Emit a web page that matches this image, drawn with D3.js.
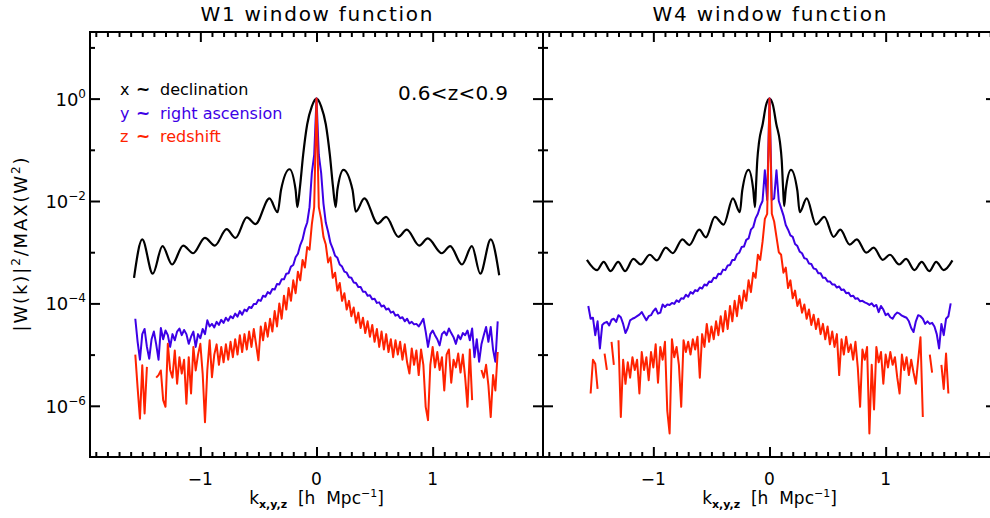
<!DOCTYPE html>
<html>
<head>
<meta charset="utf-8">
<script src="https://cdn.jsdelivr.net/npm/d3@7"></script>
<style>
  body { margin: 0; background: #fff; }
  svg { display: block; font-family: "DejaVu Sans", "Liberation Sans", sans-serif; }
</style>
</head>
<body>
<svg id="chart" width="990" height="518"></svg>
<script>
// ---------------------------------------------------------------------------
// Data: |W(k)|^2 / MAX(W^2) for the W1 and W4 fields, 0.6<z<0.9.
// Values are stored as log10 of the normalised power.
// ---------------------------------------------------------------------------

// FFT wavenumber grid for the y (RA) and z (redshift) directions, h/Mpc
const kGrid = d3.range(-78, 79).map(i => i / 50);

// x ~ declination, W1 (smooth sinc-like window, sampled at its extrema)
const w1DecK = [-1.571, -1.50, -1.41, -1.326, -1.243, -1.148, -1.062, -0.961, -0.875, -0.774,
  -0.697, -0.60, -0.525, -0.405, -0.335, -0.305, -0.232, -0.18, -0.165, -0.142,
  -0.115, -0.08, -0.04, 0, 0.04, 0.08, 0.115, 0.142, 0.165, 0.18,
  0.232, 0.31, 0.338, 0.412, 0.527, 0.599, 0.705, 0.777, 0.884, 0.958,
  1.079, 1.151, 1.252, 1.338, 1.41, 1.50, 1.573];
const w1DecLog = [-3.50, -2.75, -3.42, -2.88, -3.24, -2.87, -3.02, -2.72, -2.87, -2.55,
  -2.72, -2.32, -2.45, -1.95, -2.22, -1.78, -1.38, -1.78, -2.12, -1.72,
  -1.10, -0.50, -0.15, 0, -0.15, -0.50, -1.10, -1.72, -2.12, -1.78,
  -1.39, -1.78, -2.21, -1.95, -2.44, -2.31, -2.70, -2.56, -2.87, -2.73,
  -3.02, -2.88, -3.24, -2.88, -3.42, -2.75, -3.45];

// y ~ right ascension, W1
const w1RaLog = [
  -4.30, -4.75, -5.10, -4.60, -4.50, -4.85, -5.08, -4.70, -4.55, -4.80,
  -5.10, -4.48, -4.70, -4.53, -4.62, -4.85, -4.60, -4.72, -4.55, -4.49,
  -4.62, -4.52, -4.60, -4.79, -4.65, -4.55, -4.85, -4.60, -4.68, -4.50,
  -4.60, -4.33, -4.45, -4.40, -4.47, -4.36, -4.42, -4.32, -4.38, -4.28,
  -4.34, -4.25, -4.29, -4.20, -4.26, -4.15, -4.22, -4.12, -4.15, -4.07,
  -4.09, -4.01, -4.01, -3.93, -3.95, -3.85, -3.87, -3.78, -3.81, -3.72,
  -3.73, -3.62, -3.63, -3.53, -3.53, -3.42, -3.41, -3.28, -3.25, -3.10,
  -3.03, -2.86, -2.75, -2.55, -2.42, -2.12, -1.45, -1.10,
  0,
  -1.10, -1.45, -2.05, -2.42, -2.60, -2.82, -2.93, -3.07, -3.11, -3.24,
  -3.28, -3.38, -3.40, -3.49, -3.50, -3.59, -3.60, -3.68, -3.68, -3.77,
  -3.77, -3.85, -3.84, -3.92, -3.91, -3.99, -3.98, -4.06, -4.04, -4.12,
  -4.10, -4.18, -4.16, -4.24, -4.22, -4.29, -4.27, -4.35, -4.30, -4.39,
  -4.36, -4.41, -4.40, -4.45, -4.38, -4.30, -4.55, -4.85, -4.60, -4.53,
  -4.62, -4.70, -4.82, -4.60, -4.55, -4.62, -4.49, -4.58, -4.66, -4.79,
  -4.62, -4.70, -4.58, -4.62, -4.53, -4.72, -4.49, -5.05, -4.70, -5.14,
  -4.80, -4.62, -4.46, -4.75, -4.46, -4.90, -5.14, -4.35];

// z ~ redshift, W1 (null = empty bin, not drawn)
const w1ZLog = [
  -5.00, -5.65, -6.25, -5.21, -6.15, -5.24, null, null, null, -5.45,
  -5.40, -5.31, -5.89, -6.02, -4.79, -5.30, -5.45, -4.92, -5.57, -5.05,
  -5.37, -5.10, -5.96, -5.05, -5.76, -4.85, -5.31, -5.00, -4.79, -5.37,
  -6.32, -5.30, -4.72, -5.44, -5.00, -4.80, -5.20, -4.85, -5.15, -4.80,
  -5.10, -4.75, -5.05, -4.70, -5.00, -4.62, -4.95, -4.60, -4.90, -4.55,
  -4.85, -4.50, -4.80, -5.11, -4.45, -4.72, -4.38, -4.65, -4.30, -4.55,
  -4.15, -4.45, -4.00, -4.30, -3.85, -4.12, -3.70, -3.95, -3.55, -3.80,
  -3.38, -3.55, -3.15, -3.30, -2.90, -2.95, -2.45, -2.12,
  0,
  -2.12, -2.35, -2.70, -2.85, -3.20, -3.10, -3.50, -3.40, -3.75, -3.60,
  -3.95, -3.80, -4.12, -3.95, -4.25, -4.08, -4.38, -4.18, -4.48, -4.28,
  -4.58, -4.35, -4.65, -4.42, -4.75, -4.50, -4.85, -4.55, -4.90, -4.60,
  -4.95, -4.70, -5.05, -4.72, -5.00, -4.75, -5.10, -4.80, -5.15, -5.37,
  -4.88, -5.20, -4.92, -5.40, -4.90, -5.20, -6.02, -6.28, -5.20, -4.85,
  -5.25, -4.95, -5.30, -5.05, -5.70, -5.00, -4.90, -5.55, -5.10, -5.25,
  -4.98, -5.35, -5.00, -5.45, -6.02, -4.90, -5.89, null, null, null,
  -5.30, -5.45, -5.20, -5.60, -6.22, -5.40, -5.70, -4.95];

// x ~ declination, W4
const w4DecK = [-1.572, -1.485, -1.428, -1.368, -1.303, -1.243, -1.172, -1.108, -1.031, -0.97,
  -0.893, -0.833, -0.75, -0.69, -0.605, -0.548, -0.47, -0.395, -0.315, -0.255,
  -0.235, -0.18, -0.14, -0.125, -0.117, -0.105, -0.09, -0.058, -0.03, 0,
  0.03, 0.058, 0.09, 0.105, 0.117, 0.126, 0.14, 0.185, 0.24, 0.26,
  0.32, 0.40, 0.472, 0.552, 0.61, 0.69, 0.752, 0.833, 0.897, 0.975,
  1.037, 1.116, 1.176, 1.248, 1.31, 1.376, 1.435, 1.50, 1.575];
const w4DecLog = [-3.15, -3.35, -3.19, -3.37, -3.19, -3.37, -3.13, -3.24, -3.05, -3.16,
  -2.91, -3.02, -2.75, -2.86, -2.56, -2.71, -2.31, -2.46, -1.95, -2.22,
  -1.80, -1.39, -1.78, -2.12, -1.75, -1.20, -0.85, -0.49, -0.13, 0,
  -0.13, -0.49, -0.85, -1.20, -1.75, -2.10, -1.78, -1.39, -1.80, -2.22,
  -1.95, -2.46, -2.31, -2.70, -2.56, -2.85, -2.75, -3.01, -2.91, -3.15,
  -3.05, -3.24, -3.13, -3.35, -3.19, -3.37, -3.19, -3.35, -3.16];

// y ~ right ascension, W4
const w4RaLog = [
  -4.05, -4.30, -4.28, -4.62, -4.35, -4.88, -4.42, -4.38, -4.36, -4.43,
  -4.32, -4.30, -4.36, -4.23, -4.27, -4.40, -4.58, -4.48, -4.33, -4.30,
  -4.28, -4.25, -4.22, -4.17, -4.25, -4.33, -4.25, -4.23, -4.15, -4.10,
  -4.20, -4.18, -4.02, -4.07, -4.02, -4.03, -3.99, -4.01, -3.94, -3.97,
  -3.90, -3.91, -3.83, -3.87, -3.78, -3.81, -3.74, -3.76, -3.69, -3.71,
  -3.63, -3.65, -3.57, -3.58, -3.50, -3.51, -3.42, -3.43, -3.34, -3.35,
  -3.26, -3.25, -3.15, -3.15, -3.04, -3.01, -2.90, -2.89, -2.76, -2.73,
  -2.56, -2.51, -2.34, -2.25, -2.10, -2.00, -1.40, -1.98,
  0,
  -1.98, -1.95, -1.40, -2.00, -2.14, -2.28, -2.47, -2.56, -2.67, -2.70,
  -2.84, -2.88, -2.99, -3.02, -3.12, -3.13, -3.22, -3.23, -3.32, -3.33,
  -3.41, -3.41, -3.50, -3.50, -3.57, -3.57, -3.63, -3.63, -3.69, -3.67,
  -3.74, -3.73, -3.80, -3.79, -3.86, -3.85, -3.91, -3.90, -3.96, -3.95,
  -3.98, -4.00, -4.03, -4.00, -4.06, -4.03, -4.17, -4.05, -4.12, -4.23,
  -4.20, -4.27, -4.30, -4.22, -4.18, -4.20, -4.24, -4.26, -4.28, -4.35,
  -4.48, -4.56, -4.35, -4.23, -4.25, -4.30, -4.40, -4.35, -4.40, -4.38,
  -4.45, -4.60, -4.88, -4.40, -4.62, -4.30, -4.25, -4.00];

// z ~ redshift, W4
const w4ZLog = [
  null, -5.76, -5.10, -5.18, -5.67, null, null, -4.98, -5.30, null,
  -4.75, -5.20, null, -4.72, -6.22, -5.10, -5.57, -5.15, -5.45, -5.05,
  -5.30, -5.10, -5.76, -4.95, -5.30, -5.05, -5.50, -4.95, -5.25, -4.80,
  -5.55, -4.85, -5.10, -4.75, -6.10, -6.54, -4.70, -5.05, -4.85, -5.20,
  -6.02, -4.72, -4.95, -4.75, -5.00, -4.70, -4.90, -4.65, -5.45, -4.60,
  -4.85, -4.40, -4.75, -4.45, -4.70, -4.35, -4.62, -4.25, -4.55, -4.15,
  -4.50, -4.05, -4.35, -3.95, -4.25, -3.85, -4.10, -3.75, -3.95, -3.55,
  -3.78, -3.40, -3.50, -3.05, -3.15, -2.80, -2.35, -2.25,
  0,
  -2.25, -2.40, -2.70, -3.00, -3.05, -3.40, -3.30, -3.70, -3.55, -3.90,
  -3.75, -4.05, -3.92, -4.18, -4.02, -4.30, -4.12, -4.42, -4.22, -4.50,
  -4.30, -4.60, -4.40, -4.70, -4.45, -4.80, -4.55, -4.85, -4.60, -5.40,
  -4.70, -5.00, -4.65, -4.95, -4.80, -5.10, -4.75, -5.25, -6.02, -4.90,
  -5.10, -4.85, -6.54, -5.20, -6.07, -4.85, -5.15, -4.95, -5.57, -5.00,
  -5.25, -4.95, -5.20, -5.05, -5.45, -5.76, -5.00, -5.30, -5.05, -5.40,
  -5.10, -5.35, -5.57, -5.10, -4.66, -6.22, null, null, -5.00, -5.35,
  null, null, null, -5.20, -5.67, -4.98, -5.76, null];

// Axis ticks
const xLabelTicks = [-1, 0, 1];
const xMinorTicks = d3.range(-19, 20).filter(i => i % 10 !== 0).map(i => i / 10);
const yLabelExp = [0, -2, -4, -6];
const yMinorExp = [1, -1, -3, -5];

const legendItems = [
  { sym: "x", name: "declination", color: "#000000" },
  { sym: "y", name: "right ascension", color: "#3d00e6" },
  { sym: "z", name: "redshift", color: "#ff2200" }
];

// ---------------------------------------------------------------------------
// Layout
// ---------------------------------------------------------------------------
const svg = d3.select("#chart");
const plotTop = 32, plotBottom = 457;
const y = d3.scaleLog().domain([1e-7, 20]).range([plotBottom, plotTop]);

const panels = [
  { title: "W1 window function", x0: 90, x1: 543, decK: w1DecK, dec: w1DecLog, ra: w1RaLog, z: w1ZLog, leftLabels: true, titleLen: 232 },
  { title: "W4 window function", x0: 543, x1: 996, decK: w4DecK, dec: w4DecLog, ra: w4RaLog, z: w4ZLog, leftLabels: false, titleLen: 234 }
];

const toPts = (ks, logs) => ks.map((k, i) => [k, logs[i] == null ? null : Math.pow(10, logs[i])]);

panels.forEach(p => {
  const x = d3.scaleLinear().domain([-1.95, 1.95]).range([p.x0, p.x1]);
  const g = svg.append("g");

  const smooth = d3.line()
    .defined(d => d[1] != null)
    .x(d => x(d[0]))
    .y(d => y(d[1]))
    .curve(d3.curveMonotoneX);
  const jagged = d3.line()
    .defined(d => d[1] != null)
    .x(d => x(d[0]))
    .y(d => y(d[1]));

  // series
  g.append("path")
    .datum(toPts(p.decK, p.dec))
    .attr("d", smooth)
    .attr("fill", "none").attr("stroke", legendItems[0].color)
    .attr("stroke-width", 2.2).attr("stroke-linejoin", "round");
  g.append("path")
    .datum(toPts(kGrid, p.ra))
    .attr("d", jagged)
    .attr("fill", "none").attr("stroke", legendItems[1].color)
    .attr("stroke-width", 2).attr("stroke-linejoin", "round");
  g.append("path")
    .datum(toPts(kGrid, p.z))
    .attr("d", jagged)
    .attr("fill", "none").attr("stroke", legendItems[2].color)
    .attr("stroke-width", 2).attr("stroke-linejoin", "round");

  // frame
  g.append("rect")
    .attr("x", p.x0).attr("y", plotTop)
    .attr("width", p.x1 - p.x0).attr("height", plotBottom - plotTop)
    .attr("fill", "none").attr("stroke", "#000").attr("stroke-width", 2);

  const styleAxis = sel => {
    sel.select(".domain").remove();
    sel.selectAll(".tick line").attr("stroke", "#000").attr("stroke-width", 2);
    sel.selectAll(".tick text").remove();
  };

  // x ticks (bottom and top, pointing inward)
  g.append("g").attr("transform", `translate(0,${plotBottom})`)
    .call(d3.axisBottom(x).tickValues(xMinorTicks).tickSize(-5).tickSizeOuter(0)).call(styleAxis);
  g.append("g").attr("transform", `translate(0,${plotBottom})`)
    .call(d3.axisBottom(x).tickValues(xLabelTicks).tickSize(-10).tickSizeOuter(0)).call(styleAxis);
  g.append("g").attr("transform", `translate(0,${plotTop})`)
    .call(d3.axisTop(x).tickValues(xMinorTicks).tickSize(-5).tickSizeOuter(0)).call(styleAxis);
  g.append("g").attr("transform", `translate(0,${plotTop})`)
    .call(d3.axisTop(x).tickValues(xLabelTicks).tickSize(-10).tickSizeOuter(0)).call(styleAxis);

  // y ticks (left and right, pointing inward)
  const yMajor = yLabelExp.map(e => Math.pow(10, e));
  const yMinor = yMinorExp.map(e => Math.pow(10, e));
  g.append("g").attr("transform", `translate(${p.x0},0)`)
    .call(d3.axisLeft(y).tickValues(yMajor).tickSize(-10).tickSizeOuter(0)).call(styleAxis);
  g.append("g").attr("transform", `translate(${p.x0},0)`)
    .call(d3.axisLeft(y).tickValues(yMinor).tickSize(-5).tickSizeOuter(0)).call(styleAxis);
  g.append("g").attr("transform", `translate(${p.x1},0)`)
    .call(d3.axisRight(y).tickValues(yMajor).tickSize(-10).tickSizeOuter(0)).call(styleAxis);
  g.append("g").attr("transform", `translate(${p.x1},0)`)
    .call(d3.axisRight(y).tickValues(yMinor).tickSize(-5).tickSizeOuter(0)).call(styleAxis);

  // x tick labels
  const fmt = d3.format("d");
  g.selectAll(".xlab").data(xLabelTicks).join("text")
    .attr("class", "xlab")
    .attr("x", d => x(d)).attr("y", 485)
    .attr("text-anchor", "middle").attr("font-size", 17)
    .text(d => fmt(d));

  // x axis title: k_{x,y,z} [h Mpc^-1]
  const xc = x(0);
  const xt = g.append("text")
    .attr("x", xc).attr("y", 504).attr("text-anchor", "middle")
    .attr("font-size", 17).attr("xml:space", "preserve");
  xt.append("tspan").text("k");
  xt.append("tspan").attr("font-size", 11).attr("font-weight", "bold").attr("dy", 4).text("x,y,z");
  xt.append("tspan").attr("dy", -4).text("  [h  Mpc");
  xt.append("tspan").attr("font-size", 11).attr("dy", -7).text("−1");
  xt.append("tspan").attr("dy", 7).text("]");

  // panel title
  g.append("text")
    .attr("x", xc).attr("y", 21).attr("text-anchor", "middle")
    .attr("font-size", 20)
    .attr("textLength", p.titleLen).attr("lengthAdjust", "spacing")
    .text(p.title);

  if (p.leftLabels) {
    // y tick labels 10^n
    yLabelExp.forEach(e => {
      const t = g.append("text")
        .attr("x", p.x0 - 4).attr("y", y(Math.pow(10, e)) + 7)
        .attr("text-anchor", "end").attr("font-size", 18);
      t.append("tspan").text("10");
      t.append("tspan").attr("font-size", 12).attr("dy", -8)
        .text(e < 0 ? "−" + (-e) : String(e));
    });

    // y axis title
    const yt = g.append("text")
      .attr("transform", `translate(27,${(plotTop + plotBottom) / 2}) rotate(-90)`)
      .attr("text-anchor", "middle").attr("font-size", 18)
      .attr("textLength", 174).attr("lengthAdjust", "spacing");
    yt.append("tspan").text("|W(k)|");
    yt.append("tspan").attr("font-size", 12).attr("dy", -7).text("2");
    yt.append("tspan").attr("dy", 7).text("/MAX(W");
    yt.append("tspan").attr("font-size", 12).attr("dy", -7).text("2");
    yt.append("tspan").attr("dy", 7).text(")");

    // legend
    legendItems.forEach((it, i) => {
      const by = 95 + i * 23.5;
      g.append("text").attr("x", 120).attr("y", by).attr("font-size", 16)
        .attr("fill", it.color).text(it.sym);
      g.append("text").attr("x", 136).attr("y", by).attr("font-size", 17)
        .attr("font-weight", "bold").attr("fill", it.color).text("~");
      g.append("text").attr("x", 160).attr("y", by).attr("font-size", 16)
        .attr("fill", it.color).text(it.name);
    });

    // redshift bin label
    g.append("text")
      .attr("x", 398).attr("y", 100).attr("font-size", 20)
      .attr("textLength", 110).attr("lengthAdjust", "spacing")
      .text("0.6<z<0.9");
  }
});
</script>
</body>
</html>
